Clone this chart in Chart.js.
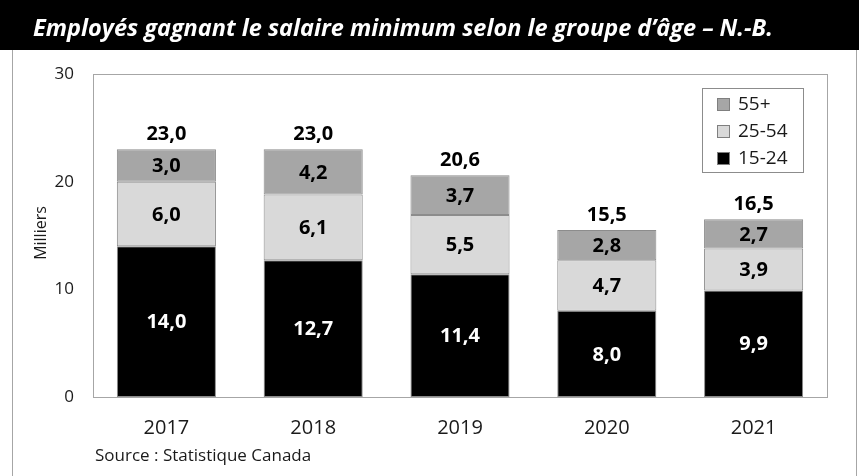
<!DOCTYPE html>
<html>
<head>
<meta charset="utf-8">
<script src="https://cdn.jsdelivr.net/npm/chart.js@4"></script>
<style>
  html, body { margin: 0; padding: 0; background: #fff; }
  #wrap { width: 859px; height: 476px; position: relative; }
</style>
</head>
<body>
<div id="wrap"><canvas id="chart" width="859" height="476"></canvas></div>
<script>
// Data
const years = ['2017', '2018', '2019', '2020', '2021'];
const age1524 = [14.0, 12.7, 11.4, 8.0, 9.9];
const age2554 = [6.0, 6.1, 5.5, 4.7, 3.9];
const age55 = [3.0, 4.2, 3.7, 2.8, 2.7];
const totals = [23.0, 23.0, 20.6, 15.5, 16.5];
const yTicks = [0, 10, 20, 30];

const FONT = "'Open Sans', 'Noto Sans', sans-serif";
const fmt = v => v.toFixed(1).replace('.', ',');

// frame, title bar, source, plot border
const framePlugin = {
    id: 'frame',
    beforeDraw(chart) {
        const c = chart.ctx;
        c.save();
        c.fillStyle = '#fff';
        c.fillRect(0, 0, chart.width, chart.height);
        c.fillStyle = '#000';
        c.fillRect(0, 0, chart.width, 50);
        c.strokeStyle = '#a6a6a6';
        c.lineWidth = 1;
        c.beginPath();
        c.moveTo(12.5, 50); c.lineTo(12.5, chart.height);
        c.moveTo(856.5, 50); c.lineTo(856.5, chart.height);
        c.stroke();
        c.fillStyle = '#fff';
        c.font = "italic bold 23.5px " + FONT;
        c.textBaseline = 'middle';
        c.fillText('Employés gagnant le salaire minimum selon le groupe d’âge – N.-B.', 33, 29);
        c.fillStyle = '#1a1a1a';
        c.font = "17px " + FONT;
        c.fillText('Source : Statistique Canada', 95, 456);
        // y axis title
        c.save();
        c.translate(41, 233);
        c.rotate(-Math.PI / 2);
        c.textAlign = 'center';
        c.font = "16px " + FONT;
        c.fillText('Milliers', 0, 0);
        c.restore();
        c.restore();
    },
    afterDraw(chart) {
        const c = chart.ctx;
        const a = chart.chartArea;
        c.save();
        c.strokeStyle = '#a6a6a6';
        c.lineWidth = 1;
        c.strokeRect(Math.round(a.left) + 0.5, Math.round(a.top) + 0.5,
            Math.round(a.right - a.left), Math.round(a.bottom - a.top));

        // segment labels
        c.textAlign = 'center';
        c.textBaseline = 'middle';
        c.font = "bold 20px " + FONT;
        chart.data.datasets.forEach((ds, i) => {
            chart.getDatasetMeta(i).data.forEach((bar, j) => {
                c.fillStyle = ds.labelColor;
                c.fillText(fmt(ds.data[j]), bar.x, (bar.y + bar.base) / 2 + 1);
            });
        });
        // totals
        const top = chart.getDatasetMeta(chart.data.datasets.length - 1).data;
        c.fillStyle = '#000';
        top.forEach((bar, j) => {
            c.fillText(fmt(totals[j]), bar.x, bar.y - 15);
        });

        // legend
        const lx = 702, ly = 88, lw = 101, lh = 84;
        c.fillStyle = '#fff';
        c.fillRect(lx, ly, lw, lh);
        c.strokeStyle = '#8c8c8c';
        c.strokeRect(lx + 0.5, ly + 0.5, lw, lh);
        c.textAlign = 'left';
        c.font = "19px " + FONT;
        const items = chart.data.datasets.slice().reverse();
        items.forEach((ds, k) => {
            const cy = ly + 16 + k * 27;
            c.fillStyle = ds.backgroundColor;
            c.fillRect(717, cy - 6, 13, 13);
            c.strokeStyle = '#7f7f7f';
            c.strokeRect(717.5, cy - 5.5, 12, 12);
            c.fillStyle = '#1a1a1a';
            c.fillText(ds.label, 738, cy + 1);
        });
        c.restore();
    }
};

new Chart(document.getElementById('chart'), {
    type: 'bar',
    data: {
        labels: years,
        datasets: [
            { label: '15-24', data: age1524, backgroundColor: '#000000', labelColor: '#ffffff' },
            { label: '25-54', data: age2554, backgroundColor: '#d9d9d9', labelColor: '#000000' },
            { label: '55+', data: age55, backgroundColor: '#a6a6a6', labelColor: '#000000' }
        ].map(d => Object.assign(d, {
            borderColor: '#8c8c8c',
            borderWidth: 1,
            borderSkipped: false,
            categoryPercentage: 1,
            barPercentage: 0.675
        }))
    },
    options: {
        responsive: false,
        animation: false,
        layout: { padding: { left: 0, right: 32, top: 74, bottom: 0 } },
        plugins: { legend: { display: false }, tooltip: { enabled: false } },
        scales: {
            x: {
                stacked: true,
                grid: { display: false, drawTicks: false },
                border: { display: false },
                ticks: { color: '#1a1a1a', font: { family: FONT, size: 20 }, padding: 19 },
                afterFit(s) { s.height = 79; }
            },
            y: {
                stacked: true,
                min: 0,
                max: 30,
                grid: { display: false, drawTicks: false },
                border: { display: false },
                afterBuildTicks(s) { s.ticks = yTicks.map(v => ({ value: v })); },
                ticks: { color: '#1a1a1a', font: { family: FONT, size: 17 }, padding: 19 },
                afterFit(s) { s.width = 93; }
            }
        }
    },
    plugins: [framePlugin]
});
</script>
</body>
</html>
